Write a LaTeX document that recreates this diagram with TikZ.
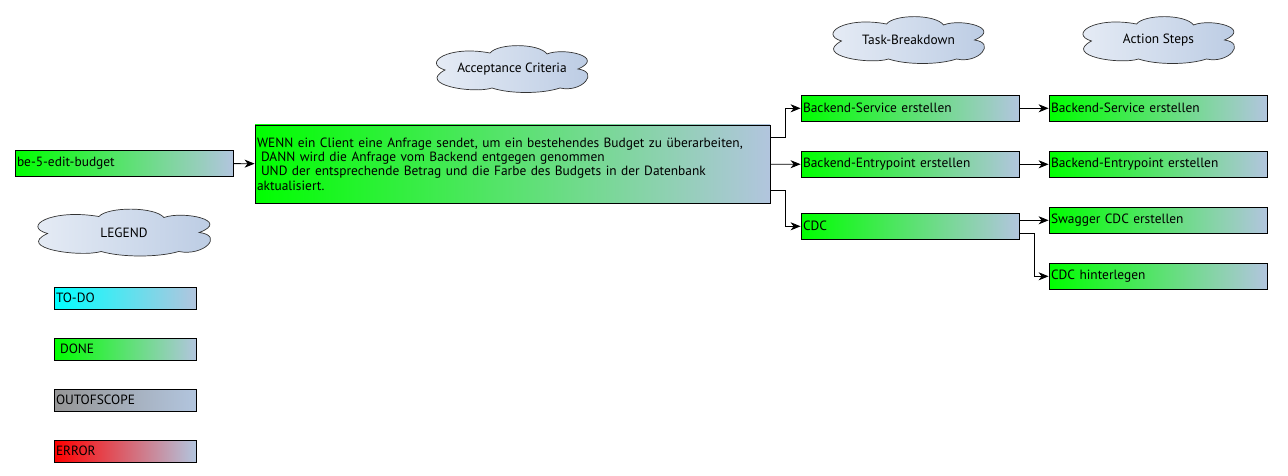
\documentclass[tikz,border=0pt]{standalone}
\usepackage{fontspec}
\setmainfont{PT Sans}
\usepackage{tikz}
\usepackage{xcolor}
\usetikzlibrary{positioning, arrows.meta}

\definecolor{done}{RGB}{0,255,0}
\definecolor{todo}{RGB}{0,255,255}
\definecolor{outofscope}{RGB}{150,150,150}
\definecolor{error}{RGB}{255,0,0}
\definecolor{steel}{RGB}{178,197,222}
\definecolor{cloudlight}{RGB}{234,239,247}
\definecolor{cloudsteel}{RGB}{184,201,226}

\begin{document}
\begin{tikzpicture}[x=1pt, y=-1pt,
        every node/.style={font=\fontsize{13.4}{14.4}\selectfont},
        box/.style={rectangle, draw=black, line width=0.8pt, inner sep=2pt, align=left, minimum height=26pt, right color=steel},
        wide/.style={box, text width=214pt},
        small/.style={box, text width=138pt, minimum height=22pt},
        bubbletext/.style={inner sep=0pt},
        bubble/.pic={
            \draw[draw=black!80, line width=0.7pt, left color=cloudlight, right color=cloudsteel]
                (-67, 1) .. controls (-90, -6) and (-64, -24) .. (-22, -16)
                .. controls (-14, -26) and (27, -26) .. (35, -15)
                .. controls (52, -22) and (94, -12) .. (66, 0)
                .. controls (88, 3) and (70, 24) .. (48, 19)
                .. controls (30, 25) and (-2, 25) .. (-20, 19)
                .. controls (-38, 25) and (-96, 16) .. (-67, 1) -- cycle;
        },
        arr/.style={-{Stealth[length=10pt, width=8pt, inset=3pt]}, line width=0.8pt}]
            \useasboundingbox (0, 0) rectangle (1288, 476);

            \pic at (512, 69) {bubble};
            \pic at (908.5, 40) {bubble};
            \pic at (1158.5, 40) {bubble};
            \pic[xscale=1.14] at (124, 232.5) {bubble};
            \node[bubbletext] (accloud) at (512, 69) {Acceptance Criteria};
            \node[bubbletext] (tbcloud) at (908.5, 40) {Task-Breakdown};
            \node[bubbletext] (ascloud) at (1158.5, 40) {Action Steps};
            \node[bubbletext] (legend) at (124, 232.5) {LEGEND};

            \node[wide, left color=done] (story) at (124, 163.5) {be-5-edit-budget};
            \node[box, left color=done, text width=511pt, minimum height=78pt] (ac) at (512.5, 164) {WENN ein Client eine Anfrage sendet, um ein bestehendes Budget zu überarbeiten,\\
                \hspace*{4pt}DANN wird die Anfrage vom Backend entgegen genommen\\
                \hspace*{4pt}UND der entsprechende Betrag und die Farbe des Budgets in der Datenbank\\
                aktualisiert.};

            \node[wide, left color=done] (t1) at (910, 108.3) {Backend-Service erstellen};
            \node[wide, left color=done] (t2) at (910, 164.3) {Backend-Entrypoint erstellen};
            \node[wide, left color=done] (t3) at (910, 226.3) {CDC};

            \node[wide, left color=done] (a1) at (1158, 108.3) {Backend-Service erstellen};
            \node[wide, left color=done] (a2) at (1158, 164.3) {Backend-Entrypoint erstellen};
            \node[wide, left color=done] (a3) at (1158, 220.3) {Swagger CDC erstellen};
            \node[wide, left color=done] (a4) at (1158, 276.3) {CDC hinterlegen};

            \node[small, left color=todo] (todo) at (125, 298) {TO-DO};
            \node[small, left color=done] (done) at (125, 349) {\hspace*{4pt}DONE};
            \node[small, left color=outofscope] (oos) at (125, 400) {OUTOFSCOPE};
            \node[small, left color=error] (err) at (125, 451) {ERROR};

            \draw[arr] (story) -- (ac);
            \draw[arr] ([yshift=27pt]ac.east) -- ++(15, 0) |- (t1.west);
            \draw[arr] (ac) -- (t2);
            \draw[arr] ([yshift=-26pt]ac.east) -- ++(15, 0) |- (t3.west);
            \draw[arr] (t1) -- (a1);
            \draw[arr] (t2) -- (a2);
            \draw[arr] (t3.east |- a3.west) -- (a3.west);
            \draw[arr] ([yshift=-7pt]t3.east) -- ++(15, 0) |- (a4.west);
        \end{tikzpicture}
\end{document}
